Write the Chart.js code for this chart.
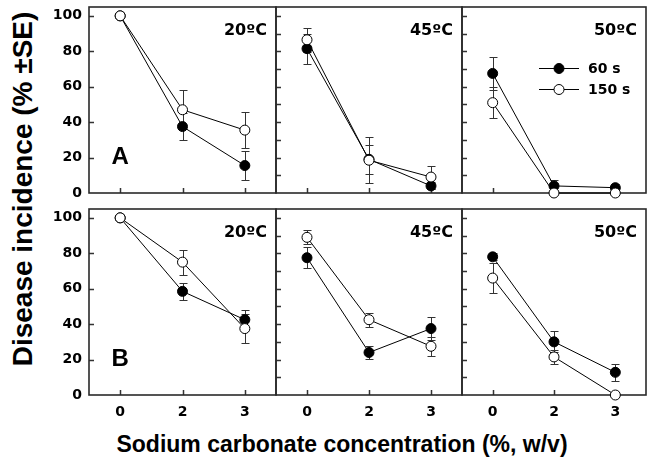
<!DOCTYPE html>
<html><head><meta charset="utf-8">
<script src="https://cdn.jsdelivr.net/npm/chart.js@4.4.0/dist/chart.umd.min.js"></script>
<style>
html,body{margin:0;padding:0;background:#fff;}
#wrap{position:relative;width:651px;height:468px;overflow:hidden;background:#fff;}
canvas{position:absolute;}
.t{position:absolute;font-family:"Liberation Sans",Arial,sans-serif;font-weight:bold;color:#000;white-space:nowrap;line-height:1;}
#xtitle{left:342px;top:444px;font-size:23px;transform:translate(-50%,-50%);}
#ytitle{left:23px;top:189px;font-size:28px;transform:translate(-50%,-50%) rotate(-90deg);}
</style></head><body>
<div id="wrap">
 <div class="t" id="ytitle">Disease incidence (% ±SE)</div>
 <div class="t" id="xtitle">Sodium carbonate concentration (%, w/v)</div>
</div>
<script>
// ---------- data ----------
const categories = ['0', '2', '3'];
const temperatures = ['20ºC', '45ºC', '50ºC'];
const rowLabels = ['A', 'B'];
const seriesNames = ['60 s', '150 s'];

// Row A
const a20_60 = [100, 37.5, 15.5];
const a20_60_se = [0, 7.5, 8];
const a20_150 = [100, 47, 35.5];
const a20_150_se = [0, 11, 10];
const a45_60 = [81.5, 19, 4];
const a45_60_se = [8.5, 8, 2];
const a45_150 = [86.5, 18.5, 9];
const a45_150_se = [6.8, 13, 6.5];
const a50_60 = [67.5, 4, 3];
const a50_60_se = [9.4, 3.5, 2];
const a50_150 = [51, 0, 0];
const a50_150_se = [8.8, 0, 0];
// Row B
const b20_60 = [100, 58.5, 42.5];
const b20_60_se = [0, 5, 5.6];
const b20_150 = [100, 75, 37.5];
const b20_150_se = [0, 7, 8];
const b45_60 = [77.5, 24, 37.5];
const b45_60_se = [6, 3.5, 6.6];
const b45_150 = [89, 42.5, 27.5];
const b45_150_se = [4, 4, 5.5];
const b50_60 = [78, 30, 12.8];
const b50_60_se = [2, 6, 4.8];
const b50_150 = [66, 21.5, 0];
const b50_150_se = [8.6, 4, 0];

const panelData = [
  [[a20_60, a20_60_se, a20_150, a20_150_se], [a45_60, a45_60_se, a45_150, a45_150_se], [a50_60, a50_60_se, a50_150, a50_150_se]],
  [[b20_60, b20_60_se, b20_150, b20_150_se], [b45_60, b45_60_se, b45_150, b45_150_se], [b50_60, b50_60_se, b50_150, b50_150_se]]
];

// ---------- layout ----------
const colL = [89, 276, 462], colR = [276, 462, 646];
const rowT = [7, 209], rowB = [193, 395];
const TICKFONT = {family: '"DejaVu Sans", sans-serif', weight: 'bold', size: 14};

const panelPlugin = {
  id: 'panelDeco',
  beforeDatasetsDraw(chart) {
    const o = chart.options.plugins.panelDeco;
    const ctx = chart.ctx, a = chart.chartArea;
    const xs = chart.scales.x, ys = chart.scales.y;
    ctx.save();
    // inward ticks
    ctx.strokeStyle = '#333'; ctx.lineWidth = 1.5;
    ctx.beginPath();
    ys.ticks.forEach(t => {
      if (t.value > 0 && t.value <= 100) {
        const y = Math.round(ys.getPixelForValue(t.value)) + 0.5;
        ctx.moveTo(a.left, y); ctx.lineTo(a.left + 5, y);
      }
    });
    categories.forEach((c, i) => {
      const x = Math.round(xs.getPixelForValue(i)) + 0.5;
      ctx.moveTo(x, a.bottom); ctx.lineTo(x, a.bottom - 5);
    });
    ctx.stroke();
    // box
    ctx.strokeStyle = '#2a2a2a'; ctx.lineWidth = 1.6;
    ctx.strokeRect(a.left, a.top, a.right - a.left, a.bottom - a.top);
    // error bars
    ctx.strokeStyle = '#333'; ctx.lineWidth = 1;
    chart.data.datasets.forEach(ds => {
      ds.se.forEach((e, i) => {
        if (!e) return;
        const x = Math.round(xs.getPixelForValue(i)) + 0.5;
        const y1 = Math.round(ys.getPixelForValue(ds.data[i] + e)) + 0.5;
        const y2 = Math.round(ys.getPixelForValue(Math.max(0, ds.data[i] - e))) + 0.5;
        ctx.beginPath();
        ctx.moveTo(x, y1); ctx.lineTo(x, y2);
        ctx.moveTo(x - 4, y1); ctx.lineTo(x + 4, y1);
        ctx.moveTo(x - 4, y2); ctx.lineTo(x + 4, y2);
        ctx.stroke();
      });
    });
    // panel title
    ctx.fillStyle = '#000';
    ctx.font = 'bold 16px "DejaVu Sans", sans-serif';
    ctx.textAlign = 'right'; ctx.textBaseline = 'middle';
    ctx.fillText(o.title, a.right - 9, a.top + 24);
    // row label
    if (o.rowLabel) {
      ctx.font = 'bold 24px "Liberation Sans", Arial, sans-serif';
      ctx.textAlign = 'center'; ctx.textBaseline = 'middle';
      ctx.fillText(o.rowLabel, xs.getPixelForValue(0), ys.getPixelForValue(20));
    }
    // legend
    if (o.legend) {
      const lx = a.left + 77, tx = a.left + 126;
      const rows = [a.top + 61, a.top + 82];
      ctx.font = 'bold 14px "DejaVu Sans", sans-serif';
      ctx.textAlign = 'left'; ctx.textBaseline = 'middle';
      seriesNames.forEach((n, k) => {
        const y = rows[k] + 0.5;
        ctx.strokeStyle = '#000'; ctx.lineWidth = 1;
        ctx.beginPath(); ctx.moveTo(lx, y); ctx.lineTo(lx + 40, y); ctx.stroke();
        ctx.beginPath(); ctx.arc(lx + 20, y, 5, 0, Math.PI * 2);
        ctx.fillStyle = k === 0 ? '#000' : '#fff'; ctx.fill(); ctx.stroke();
        ctx.fillStyle = '#000';
        ctx.fillText(n, tx, y + 1);
      });
    }
    ctx.restore();
  }
};

const wrap = document.getElementById('wrap');
for (let r = 0; r < 2; r++) {
  for (let c = 0; c < 3; c++) {
    const padL = c === 0 ? 70 : 12, padR = 12, padT = 10, padB = r === 1 ? 40 : 12;
    const w = colR[c] - colL[c], h = rowB[r] - rowT[r];
    const cv = document.createElement('canvas');
    cv.width = w + padL + padR; cv.height = h + padT + padB;
    cv.style.left = (colL[c] - padL) + 'px'; cv.style.top = (rowT[r] - padT) + 'px';
    cv.style.width = cv.width + 'px'; cv.style.height = cv.height + 'px';
    wrap.appendChild(cv);
    const [s60, s60e, s150, s150e] = panelData[r][c];
    new Chart(cv, {
      type: 'line',
      data: {
        labels: categories,
        datasets: [
          {label: seriesNames[0], data: s60, se: s60e, order: 1, borderColor: '#000', borderWidth: 1,
           pointRadius: 5, pointBorderWidth: 1, pointBackgroundColor: '#000', pointBorderColor: '#000', clip: false, tension: 0},
          {label: seriesNames[1], data: s150, se: s150e, order: 0, borderColor: '#000', borderWidth: 1,
           pointRadius: 5, pointBorderWidth: 1, pointBackgroundColor: '#fff', pointBorderColor: '#000', clip: false, tension: 0}
        ]
      },
      options: {
        responsive: false, animation: false, devicePixelRatio: 1,
        layout: {padding: {top: padT, right: padR, left: 0, bottom: 0}},
        plugins: {
          legend: {display: false}, tooltip: {enabled: false},
          panelDeco: {title: temperatures[c], rowLabel: c === 0 ? rowLabels[r] : null, legend: r === 0 && c === 2}
        },
        scales: {
          x: {type: 'category', offset: true,
              grid: {display: false, drawTicks: false}, border: {display: false},
              ticks: {display: r === 1, font: TICKFONT, color: '#000', padding: 9, maxRotation: 0, autoSkip: false},
              afterFit(s) { s.height = padB; s.paddingLeft = 0; s.paddingRight = 0; }},
          y: {type: 'linear', min: 0, max: 105,
              grid: {display: false, drawTicks: false}, border: {display: false},
              ticks: {display: c === 0, stepSize: c === 0 ? 20 : 10, includeBounds: false, font: TICKFONT, color: '#000', padding: 7},
              afterFit(s) { s.width = padL; s.paddingTop = 0; s.paddingBottom = 0; }}
        }
      },
      plugins: [panelPlugin]
    });
  }
}
</script>
</body></html>
